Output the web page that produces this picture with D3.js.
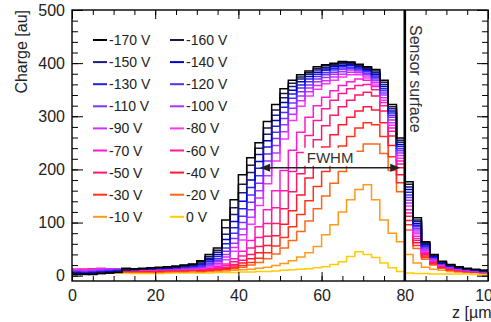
<!DOCTYPE html>
<html>
<head>
<meta charset="utf-8">
<script src="https://cdn.jsdelivr.net/npm/d3@7"></script>
<style>
  body { margin: 0; background: #fff; }
  svg { display: block; }
</style>
</head>
<body>
<div id="chart"></div>
<script>
// bias voltages, in legend order
var voltages = ["-170 V", "-160 V", "-150 V", "-140 V", "-130 V", "-120 V", "-110 V", "-100 V", "-90 V",
                "-80 V", "-70 V", "-60 V", "-50 V", "-40 V", "-30 V", "-20 V", "-10 V", "0 V"];

// bin lower edges in z (2 um bins, 0..100)
var binStart = d3.range(0, 100, 2);

// charge per bin for each voltage
var v170 = [2,3,2,4,5,6,14,13,14,15,16,17,18,20,22, 28,40,52,105,143,190,222,250,290,322, 352,368,378,385,393,397,400,403,402,398, 393,388,368,322,259, 177,109,64,40,27,21,17,14,12,10];
var v160 = [3,2,3,4,5,7,12,13,13,14,15,16,17,19,21, 26,36,48,90,128,172,208,240,278,312, 343,362,374,382,390,395,398,401,401,397, 392,385,364,318,255, 172,105,62,39,26,20,16,13,11,10];
var v150 = [4,3,4,5,6,7,11,12,13,14,15,16,17,18,20, 24,33,44,78,115,156,194,228,266,302, 335,356,370,379,387,392,396,399,399,395, 390,382,360,314,251, 167,102,60,38,25,19,16,13,11,9];
var v140 = [5,4,5,6,7,8,11,12,12,13,14,15,16,18,19, 22,30,40,68,102,140,180,215,254,292, 326,349,365,375,383,389,393,396,397,393, 388,379,356,310,247, 162,98,58,36,24,19,15,12,11,9];
var v130 = [6,5,6,7,8,9,11,11,12,13,14,14,15,17,18, 20,27,36,60,90,126,166,202,242,281, 317,342,359,370,379,386,390,394,395,391, 386,376,352,306,243, 157,95,56,35,24,18,15,12,10,9];
var v120 = [7,6,7,8,9,10,11,11,12,12,13,14,15,16,17, 18,24,32,52,80,112,152,188,229,270, 307,334,353,365,375,382,387,391,392,389, 384,373,348,302,239, 152,92,54,34,23,18,14,12,10,8];
var v110 = [8,7,8,9,10,11,12,11,12,12,13,13,14,15,16, 17,22,29,46,70,100,138,174,216,258, 296,325,346,359,370,378,383,388,390,387, 381,370,344,298,235, 147,89,52,33,22,17,14,11,10,8];
var v100 = [9,8,9,10,11,12,12,12,12,12,12,13,13,14,15, 16,20,26,40,61,88,124,160,202,245, 284,315,338,353,365,373,379,384,387,385, 379,367,340,293,231, 142,86,50,32,22,17,13,11,9,8];
var v90 = [10,9,10,11,12,12,12,12,12,12,12,12,13,13,14, 15,18,23,35,53,77,110,146,188,231, 271,304,329,346,358,367,374,379,383,382, 376,363,335,288,226, 137,82,48,31,21,16,13,11,9,8];
var v80 = [11,10,11,12,12,12,12,12,11,11,12,12,12,13,13, 14,16,20,30,46,67,97,132,173,216, 257,292,319,338,351,361,368,374,378,378, 372,359,330,283,221, 131,79,46,30,20,16,12,10,9,7];
var v70 = [12,11,12,13,13,12,12,11,11,11,11,12,12,12,13, 13,15,17,22,32,46,66,92,124,160, 198,236,270,298,320,336,348,358,365,370, 368,356,326,278,216, 124,74,44,28,19,15,12,10,8,7];
var v60 = [12,12,13,14,13,12,11,11,10,10,11,11,11,12,12, 12,13,15,19,26,37,52,72,98,128, 160,196,232,264,292,314,330,343,352,358, 360,350,320,272,210, 118,70,42,27,18,14,11,9,8,7];
var v50 = [11,12,13,13,12,11,10,10,10,10,10,10,11,11,11, 11,12,13,16,21,29,40,55,74,98, 126,158,192,226,256,282,302,318,330,340, 345,338,310,263,203, 112,66,40,25,17,13,11,9,8,7];
var v40 = [10,11,12,12,11,10,9,9,9,9,9,10,10,10,11, 10,11,12,14,18,24,32,43,57,75, 97,122,152,184,214,242,265,284,298,310, 318,312,288,245,190, 104,62,37,24,16,12,10,9,7,6];
var v30 = [9,10,11,11,10,9,8,8,8,8,8,9,9,9,10, 9,10,11,12,15,19,25,33,43,56, 72,92,115,141,168,196,222,244,262,278, 288,284,262,224,175, 96,57,34,22,15,11,9,8,7,6];
var v20 = [8,9,9,9,8,8,7,7,7,7,7,8,8,8,9, 8,9,10,11,13,16,20,25,32,41, 52,66,83,103,126,150,174,196,216,234, 248,248,230,198,158, 86,51,31,20,14,10,8,7,6,5];
var v10 = [7,7,8,8,7,7,6,6,6,6,6,6,7,7,7, 7,8,8,9,10,11,12,14,16,19, 23,28,35,43,55,77,96,120,143,162, 171,143,105,80,64, 40,24,16,12,10,8,7,6,6,5];
var v0 = [6,6,6,6,5,5,5,4,4,4,4,5,5,5,5, 5,5,6,6,6,7,7,8,8,9, 10,11,12,13,15,17,21,26,36,45, 40,34,24,15,8, 5,4,4,3,3,3,3,3,2,2];

var seriesValues = [v170, v160, v150, v140, v130, v120, v110, v100, v90, v80, v70, v60, v50, v40, v30, v20, v10, v0];

var colors = ["#000000", "#1a1a4d", "#1a1a80", "#0000cc", "#2020e6", "#4d33ff", "#7f33ff", "#a633ff", "#cc33ff",
              "#ff33ff", "#ff1acc", "#ff1a99", "#ff1a66", "#ff1a33", "#ff3319", "#ff6619", "#ff9919", "#ffcc00"];

var yMajor = [0, 100, 200, 300, 400, 500];
var xMajor = [0, 20, 40, 60, 80, 100];

// constants
var width = 491;
var height = 322;
var padL = 72, padR = 488, padT = 10, padB = 281;
var font = "'Liberation Sans', Arial, Helvetica, sans-serif";

var svg = d3.select("#chart")
  .append("svg")
  .attr("width", width)
  .attr("height", height);

var x = d3.scaleLinear().domain([0, 100]).range([padL, padR]);
var y = d3.scaleLinear().domain([-10, 500]).range([padB, padT]);

// histograms, lowest voltage first so black ends on top
var line = d3.line()
  .x(d => x(d[0]))
  .y(d => y(d[1]))
  .curve(d3.curveStepAfter);

for (var s = seriesValues.length - 1; s >= 0; s--) {
  var vals = seriesValues[s];
  var pts = binStart.map((z, i) => [z, vals[i]]);
  pts.push([100, vals[vals.length - 1]]);
  svg.append("path")
    .attr("d", line(pts))
    .style("fill", "none")
    .style("stroke", colors[s])
    .style("stroke-width", 1.5);
}

// axes: ticks inside on all four sides
function styleAxis(g) {
  g.select(".domain").remove();
  g.selectAll(".tick line").style("stroke", "#000").style("stroke-width", 1);
  g.selectAll(".tick text")
    .style("font-family", font)
    .style("font-size", "16px")
    .style("fill", "#222");
}

svg.append("g")
  .attr("transform", "translate(0," + padB + ")")
  .call(d3.axisBottom(x).tickValues(xMajor).tickSize(-9).tickPadding(9).tickFormat(d3.format("d")))
  .call(styleAxis);
svg.append("g")
  .attr("transform", "translate(0," + padB + ")")
  .call(d3.axisBottom(x).tickValues(d3.range(0, 101, 5)).tickSize(-5).tickFormat(""))
  .call(styleAxis);
svg.append("g")
  .attr("transform", "translate(0," + padT + ")")
  .call(d3.axisTop(x).tickValues(xMajor).tickSize(-9).tickFormat(""))
  .call(styleAxis);
svg.append("g")
  .attr("transform", "translate(0," + padT + ")")
  .call(d3.axisTop(x).tickValues(d3.range(0, 101, 5)).tickSize(-5).tickFormat(""))
  .call(styleAxis);

svg.append("g")
  .attr("transform", "translate(" + padL + ",0)")
  .call(d3.axisLeft(y).tickValues(yMajor).tickSize(-11).tickPadding(7))
  .call(styleAxis);
svg.append("g")
  .attr("transform", "translate(" + padL + ",0)")
  .call(d3.axisLeft(y).tickValues(d3.range(0, 501, 20)).tickSize(-6).tickFormat(""))
  .call(styleAxis);
svg.append("g")
  .attr("transform", "translate(" + padR + ",0)")
  .call(d3.axisRight(y).tickValues(yMajor).tickSize(-11).tickFormat(""))
  .call(styleAxis);
svg.append("g")
  .attr("transform", "translate(" + padR + ",0)")
  .call(d3.axisRight(y).tickValues(d3.range(0, 501, 20)).tickSize(-6).tickFormat(""))
  .call(styleAxis);

// frame
svg.append("rect")
  .attr("x", padL)
  .attr("y", padT)
  .attr("width", padR - padL)
  .attr("height", padB - padT)
  .style("fill", "none")
  .style("stroke", "#000")
  .style("stroke-width", 1.4);

// sensor surface
svg.append("line")
  .attr("x1", x(80)).attr("x2", x(80))
  .attr("y1", padT).attr("y2", padB)
  .style("stroke", "#000")
  .style("stroke-width", 2.6);

svg.append("text")
  .attr("transform", "translate(" + (x(80) + 5) + "," + 25 + ") rotate(90)")
  .style("font-family", font)
  .style("font-size", "16px")
  .style("fill", "#333")
  .text("Sensor surface");

// FWHM arrow
var arrowY = y(203);
var ax1 = x(45.2), ax2 = x(78.9);
var labelBox = svg.append("rect").style("fill", "#fff");
svg.append("line")
  .attr("x1", ax1 + 8).attr("x2", ax2 - 8)
  .attr("y1", arrowY).attr("y2", arrowY)
  .style("stroke", "#222")
  .style("stroke-width", 1.5);
svg.append("path")
  .attr("d", "M" + ax1 + "," + arrowY + "l10,-4l0,8z")
  .style("fill", "#222");
svg.append("path")
  .attr("d", "M" + ax2 + "," + arrowY + "l-10,-4l0,8z")
  .style("fill", "#222");
var fwhm = svg.append("text")
  .attr("x", (ax1 + ax2) / 2)
  .attr("y", arrowY - 5)
  .style("text-anchor", "middle")
  .style("font-family", font)
  .style("font-size", "15px")
  .style("fill", "#333")
  .text("FWHM");
var bb = fwhm.node().getBBox();
labelBox
  .attr("x", bb.x - 3)
  .attr("y", bb.y - 1)
  .attr("width", bb.width + 6)
  .attr("height", arrowY - 2 - (bb.y - 1));

// legend, two columns
var legend = svg.append("g");
voltages.forEach(function(v, i) {
  var col = i % 2;
  var row = Math.floor(i / 2);
  var lx = col === 0 ? 93 : 170;
  var ly = 40 + row * 22.1;
  legend.append("line")
    .attr("x1", lx).attr("x2", lx + 14)
    .attr("y1", ly).attr("y2", ly)
    .style("stroke", colors[i])
    .style("stroke-width", 2);
  legend.append("text")
    .attr("x", lx + 16)
    .attr("y", ly)
    .attr("dy", "0.36em")
    .style("font-family", font)
    .style("font-size", "14px")
    .style("fill", "#222")
    .text(v);
});

// axis titles
svg.append("text")
  .attr("transform", "translate(27," + padT + ") rotate(-90)")
  .style("text-anchor", "end")
  .style("font-family", font)
  .style("font-size", "16px")
  .style("fill", "#222")
  .text("Charge [au]");

svg.append("text")
  .attr("x", 496)
  .attr("y", 318)
  .style("text-anchor", "end")
  .style("font-family", font)
  .style("font-size", "16px")
  .style("fill", "#222")
  .text("z [µm]");
</script>
</body>
</html>
